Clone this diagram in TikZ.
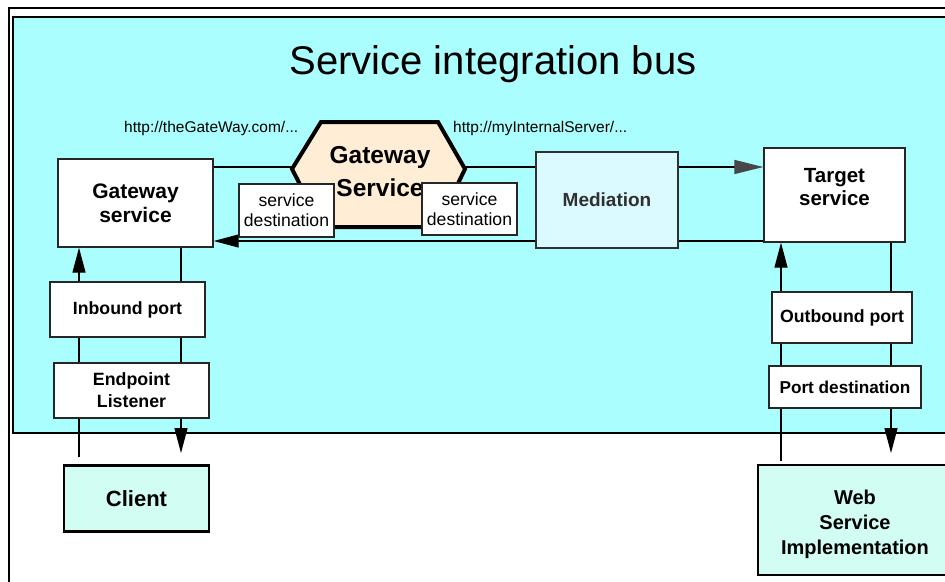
\documentclass[tikz,border=0pt]{standalone}
\usepackage{fontspec}
\setmainfont{Liberation Sans}
\usetikzlibrary{arrows.meta}
\definecolor{busbg}{HTML}{AAFEFE}
\definecolor{hexfill}{HTML}{FFEED5}
\definecolor{medfill}{HTML}{DAFAFF}
\definecolor{endfill}{HTML}{D2FDF3}
\definecolor{medtext}{HTML}{303030}
\pgfdeclarelayer{bg}
\pgfdeclarelayer{conn}
\pgfsetlayers{bg,conn,main}
\tikzset{
  box/.style={draw=black!85, line width=1.3pt, fill=white, inner sep=0pt, align=center, font=\bfseries},
  conn/.style={draw=black, line width=1.2pt},
  tip/.style={-{Triangle[length=25pt,width=13pt]}},
  urltext/.style={font=\fontsize{15.5}{18}\selectfont, inner sep=0pt},
}
\begin{document}
\begin{tikzpicture}[x=1pt,y=-1pt]
\useasboundingbox (0,0) rectangle (945,581);
\begin{pgfonlayer}{bg}
  \fill[white] (0,0) rectangle (945,581);
  \draw[line width=2pt] (9,8) rectangle (960,600);
  \draw[line width=2.6pt, fill=busbg] (13,17) rectangle (960,433);
\end{pgfonlayer}

% title and URLs
\node (title) at (493,64) {\fontsize{40}{46}\selectfont Service integration bus};
\node[urltext, anchor=west] (url1) at (124,128) {http://theGateWay.com/...};
\node[urltext, anchor=west] (url2) at (453,128) {http://myInternalServer/...};

% Gateway Service hexagon
\draw[line width=4pt, fill=hexfill, line join=miter]
  (321,122) -- (438,122) -- (465,169) -- (437,227) -- (322,227) -- (292,169) -- cycle;
\node[align=center, font=\bfseries\fontsize{24.5}{33}\selectfont, inner sep=0pt] (hex) at (380,171.5) {Gateway\\Service};

% boxes
\node[box, minimum width=155pt, minimum height=88pt, font=\bfseries\fontsize{21}{24}\selectfont] (gws) at (135.5,203) {Gateway\\service};
\node[box, font=\fontsize{17.6}{20}\selectfont, minimum width=95pt, minimum height=53pt] (sd1) at (286.5,210.5) {service\\destination};
\node[box, font=\fontsize{17.6}{20}\selectfont, minimum width=95pt, minimum height=52pt] (sd2) at (469.5,209) {service\\destination};
\node[box, draw=medtext, fill=medfill, text=medtext, font=\bfseries\fontsize{19}{22}\selectfont, minimum width=142pt, minimum height=96pt] (med) at (607,200) {\raisebox{-2pt}{Mediation}};
\node[box, minimum width=141pt, minimum height=94pt,
  label={[align=center, font=\bfseries\fontsize{20.5}{23}\selectfont, yshift=8pt]center:Target\\service}] (tgt) at (834.5,195) {};
\node[box, font=\bfseries\fontsize{17.7}{21}\selectfont, minimum width=155pt, minimum height=55pt] (inb) at (127.5,309.5) {Inbound port};
\node[box, font=\bfseries\fontsize{17.8}{22}\selectfont, minimum width=155pt, minimum height=55pt] (epl) at (131.5,390.5) {Endpoint\\Listener};
\node[box, font=\bfseries\fontsize{17.7}{21}\selectfont, minimum width=140pt, minimum height=51pt] (outp) at (842,317.5) {Outbound port};
\node[box, font=\bfseries\fontsize{17.2}{21}\selectfont, minimum width=152pt, minimum height=42pt] (pdst) at (845,387) {Port destination};
\node[box, draw=black, line width=2.6pt, fill=endfill, font=\bfseries\fontsize{22}{25}\selectfont, minimum width=145pt, minimum height=66pt] (client) at (136.5,498.5) {Client};
\node[box, draw=black, line width=2.6pt, fill=endfill, minimum width=194pt, minimum height=110pt,
  label={[align=center, font=\bfseries\fontsize{20}{25}\selectfont, yshift=-4pt]center:Web\\Service\\Implementation}] (wsi) at (855,520) {};

% connectors
\coordinate (cl) at (79,457);
\coordinate (cr) at (181,453);
\coordinate (wl) at (781,461);
\coordinate (wr) at (891,453);
\coordinate (topy) at (0,167);
\coordinate (boty) at (0,241);
\begin{pgfonlayer}{conn}
  \draw[conn, -{Triangle[length=29pt,width=14pt,color=black!72]}] (gws.east |- topy) -- (tgt.west |- topy);
  \draw[conn, tip] (tgt.west |- boty) -- (gws.east |- boty);
  \draw[conn, tip] (cl) -- (cl |- gws.south);
  \draw[conn, tip] (cr |- gws.south) -- (cr);
  \draw[conn, tip] (wl) -- (wl |- tgt.south);
  \draw[conn, tip] (wr |- tgt.south) -- (wr);
\end{pgfonlayer}
\end{tikzpicture}
\end{document}
